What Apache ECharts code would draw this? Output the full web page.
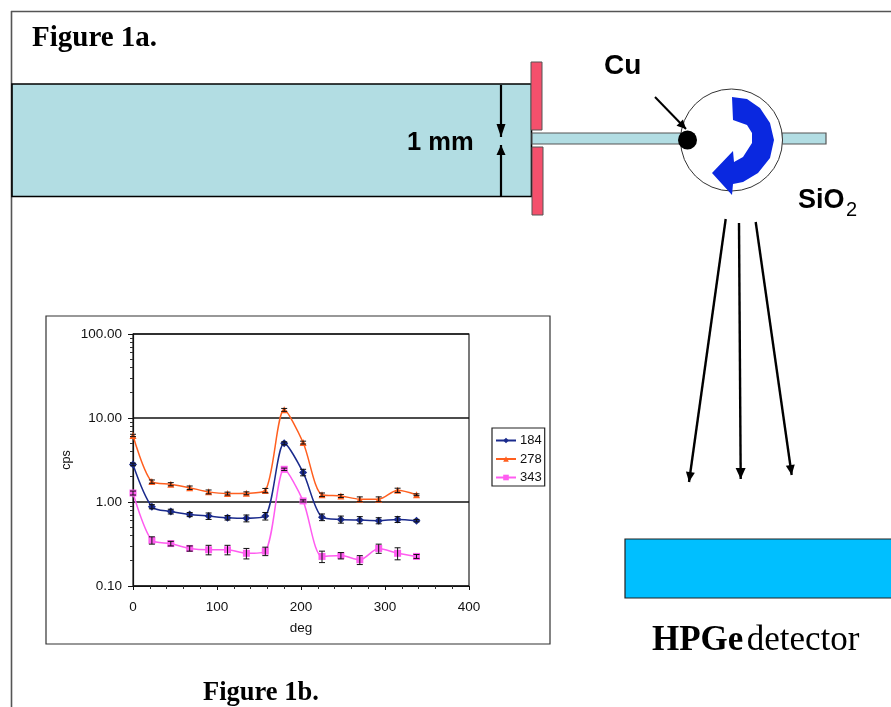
<!DOCTYPE html>
<html><head><meta charset="utf-8">
<style>html,body{margin:0;padding:0;background:#fff}#c{width:891px;height:707px}</style>
<script src="https://cdn.jsdelivr.net/npm/echarts@6/dist/echarts.min.js"></script>
</head><body><div id="c"></div>
<script>
const deg = [0,22.5,45,67.5,90,112.5,135,157.5,180,202.5,225,247.5,270,292.5,315,337.5];
const s184 = [2.8,0.88,0.77,0.71,0.68,0.65,0.64,0.68,5.0,2.25,0.66,0.62,0.61,0.60,0.62,0.60];
const s278 = [6.2,1.75,1.63,1.48,1.32,1.26,1.27,1.37,12.5,5.1,1.22,1.18,1.08,1.08,1.38,1.22];
const s343 = [1.28,0.35,0.32,0.28,0.27,0.27,0.245,0.26,2.45,1.03,0.225,0.23,0.205,0.28,0.245,0.225];
const err184 = [0.1,0.05,0.05,0.04,0.06,0.04,0.06,0.07,0.2,0.2,0.06,0.06,0.06,0.05,0.05,0.02];
const err278 = [0.2,0.08,0.07,0.07,0.07,0.05,0.05,0.08,0.5,0.2,0.06,0.05,0.07,0.07,0.08,0.03];
const err343 = [0.07,0.035,0.02,0.02,0.035,0.035,0.035,0.03,0.08,0.03,0.035,0.02,0.025,0.035,0.04,0.012];
const names = ['184','278','343'];
const colors = ['#1a2a8c','#ff5f1f','#ff5cf0'];
const yMajorLabels = [0.1,1,10,100];
const yMinorTicks = [0.2,0.3,0.4,0.5,0.6,0.7,0.8,0.9,2,3,4,5,6,7,8,9,20,30,40,50,60,70,80,90];

const dark='#111', line='#000';
function poly(points,fill,extra){return Object.assign({type:'polygon',shape:{points},style:{fill:fill}},extra||{});}
function seg(x1,y1,x2,y2,w,c){return {type:'line',shape:{x1,y1,x2,y2},style:{stroke:c||line,lineWidth:w||2}};}
function head(x1,y1,x2,y2,len,wid){
  const a=Math.atan2(y2-y1,x2-x1),bx=x2-len*Math.cos(a),by=y2-len*Math.sin(a),nx=-Math.sin(a)*wid,ny=Math.cos(a)*wid;
  return poly([[x2,y2],[bx+nx,by+ny],[bx-nx,by-ny]],line);
}
function arrow(x1,y1,x2,y2,w,len,wid){return [seg(x1,y1,x2,y2,w),head(x1,y1,x2,y2,len||10,wid||5)];}
function rect(x,y,width,height,fill,stroke,lw){return {type:'rect',shape:{x,y,width,height},style:{fill:fill||'none',stroke:stroke||'#000',lineWidth:lw==null?1:lw}};}
function text(x,y,t,font,extra){return {type:'text',x,y,style:Object.assign({text:t,font:font,fill:'#000',verticalAlign:'middle'},extra||{})};}
const sans='"Liberation Sans",Arial,sans-serif', serif='"Liberation Serif","Times New Roman",serif';

const blueArrow=[[732,97],[747,99],[760,108],[770,123],[774,140],[770,158],[758,173],[743,182],[733,184],[732,195],[712,173],[733,151],[734,162],[743,157],[752,143],[752,133],[747,125],[733,120]];

const graphicEls=[
  seg(11.5,11,11.5,707,1.6,'#555'), seg(11,11.5,891,11.5,1.6,'#555'),
  text(32,39,'Figure 1a.','bold 29px '+serif),
  rect(12,84,519.5,112.5,'#b2dde3','#000',1.6),
  ...arrow(501,85,501,137,2.2,13,4.5), ...arrow(501,196,501,145,2.2,10,4.5),
  text(407,143,'1 mm','bold 25.5px '+sans),
  rect(531,62,11,68,'#f4506c','#555',1), rect(532,147,11,68,'#f4506c','#555',1),
  rect(532,133,150,11,'#b2dde3','#555',1.2), rect(782,133,44,11,'#b2dde3','#555',1.2),
  {type:'circle',shape:{cx:731.5,cy:140,r:51},style:{fill:'#fff',stroke:'#333',lineWidth:1}},
  poly(blueArrow,'#0a28e0'),
  {type:'circle',shape:{cx:687.5,cy:140,r:9.5},style:{fill:'#000'}},
  ...arrow(655,97,686,129,2,9,4.5),
  text(604,66,'Cu','bold 28px '+sans),
  text(798,201,'SiO','bold 27px '+sans), text(846,210,'2','20px '+sans),
  ...arrow(725.7,219,689,482,2.4,10,4.5), ...arrow(739,223,740.7,479,2.4,11,5), ...arrow(755.7,222,791.7,475,2.4,10,4.5),
  rect(625,539,270,59,'#00bfff','#222',1.2),
  {type:'text',x:652,y:641,style:{text:'{b|HPGe} {r|detector}',fill:'#000',verticalAlign:'middle',rich:{b:{font:'bold 35px '+serif,fill:'#000'},r:{font:'35px '+serif,fill:'#000'}}}},
  text(203,693,'Figure 1b.','bold 26.5px '+serif),
  rect(46,316,504,328,'none','#333',1.2)
];

function lineSeries(i,vals){
  const syms=['diamond','triangle','rect'];
  return {name:names[i],type:'line',data:deg.map((d,k)=>[d,vals[k]]),smooth:0.28,symbol:syms[i],symbolSize:i===0?8:7,
    itemStyle:{color:colors[i]},lineStyle:{color:colors[i],width:1.5},z:3,animation:false};
}
function errSeries(vals,errs){
  return {type:'custom',silent:true,z:4,animation:false,legendHoverLink:false,data:deg.map((d,k)=>[d,vals[k],errs[k]]),
    encode:{x:0,y:1},
    renderItem(p,api){
      const x=api.value(0),y=api.value(1),e=api.value(2);
      const a=api.coord([x,y+e]),b=api.coord([x,y-e]),w=3,st={stroke:'#111',lineWidth:1};
      return {type:'group',children:[
        {type:'line',shape:{x1:a[0],y1:a[1],x2:b[0],y2:b[1]},style:st},
        {type:'line',shape:{x1:a[0]-w,y1:a[1],x2:a[0]+w,y2:a[1]},style:st},
        {type:'line',shape:{x1:b[0]-w,y1:b[1],x2:b[0]+w,y2:b[1]},style:st}]};
    }};
}
const axisFont={fontFamily:sans,fontSize:13.5,color:dark};
const chart=echarts.init(document.getElementById('c'),null,{renderer:'canvas'});
chart.setOption({
  animation:false,backgroundColor:'#fff',
  textStyle:{fontFamily:sans},
  grid:{left:133,top:334,width:336,height:252,show:true,borderColor:'#222',borderWidth:1.2,backgroundColor:'transparent'},
  legend:{left:492,top:428,orient:'vertical',data:names,itemWidth:20,itemHeight:7,itemGap:5.5,padding:[6,3,2,3],
    borderColor:'#222',borderWidth:1.2,backgroundColor:'#fff',textStyle:{fontFamily:sans,fontSize:13,color:dark,padding:[0,0,0,-1]},selectedMode:false},
  xAxis:{type:'value',min:0,max:400,interval:100,name:'deg',nameLocation:'middle',nameGap:35,
    nameTextStyle:axisFont,axisLabel:Object.assign({margin:14},axisFont),
    axisLine:{lineStyle:{color:'#111',width:1.2}},axisTick:{length:4,lineStyle:{color:'#111'}},
    minorTick:{show:true,splitNumber:5,length:3,lineStyle:{color:'#333'}},splitLine:{show:false}},
  yAxis:[{type:'log',logBase:10,min:0.1,max:100,name:'cps',nameLocation:'middle',nameGap:60,
    nameTextStyle:Object.assign({},axisFont,{fontSize:12.5}),
    axisLabel:Object.assign({margin:11,formatter:v=>Number(v).toFixed(2),customValues:yMajorLabels},axisFont),
    axisLine:{onZero:false,lineStyle:{color:'#111',width:1.2}},axisTick:{length:5,lineStyle:{color:'#111'}},
    splitLine:{show:true,lineStyle:{color:'#111',width:1.5}}},
   {type:'log',logBase:10,min:0.1,max:100,position:'left',
    axisLabel:{show:false},axisLine:{show:false},splitLine:{show:false},
    axisTick:{show:true,length:3,customValues:yMinorTicks,lineStyle:{color:'#333'}}}],
  graphic:{elements:graphicEls},
  series:[errSeries(s184,err184),errSeries(s278,err278),errSeries(s343,err343),lineSeries(0,s184),lineSeries(1,s278),lineSeries(2,s343)]
});
</script></body></html>
